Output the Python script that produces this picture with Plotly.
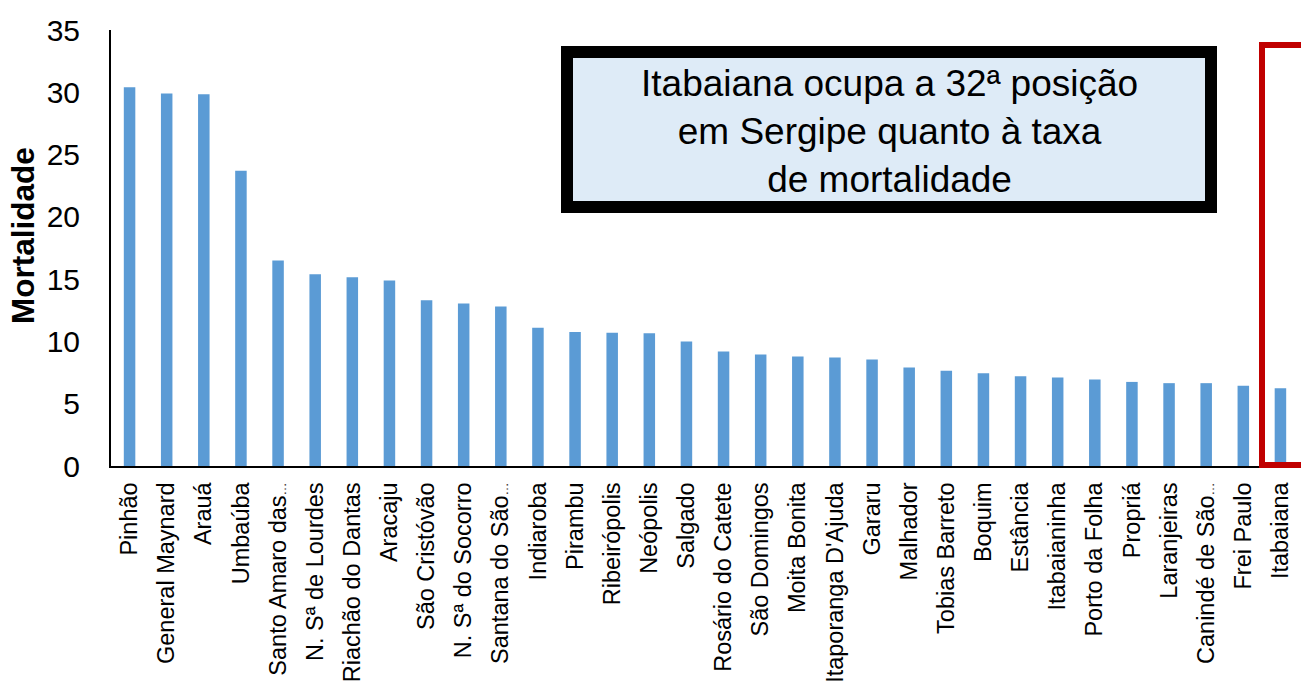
import plotly.graph_objects as go

# municipios de Sergipe, ordenados pela taxa de mortalidade
municipios = [
    "Pinhão", "General Maynard", "Arauá", "Umbaúba", "Santo Amaro das…",
    "N. Sª de Lourdes", "Riachão do Dantas", "Aracaju", "São Cristóvão",
    "N. Sª do Socorro", "Santana do São…", "Indiaroba", "Pirambu",
    "Ribeirópolis", "Neópolis", "Salgado", "Rosário do Catete",
    "São Domingos", "Moita Bonita", "Itaporanga D'Ajuda", "Gararu",
    "Malhador", "Tobias Barreto", "Boquim", "Estância", "Itabaianinha",
    "Porto da Folha", "Propriá", "Laranjeiras", "Canindé de São…",
    "Frei Paulo", "Itabaiana",
]
mortalidade = [
    30.4, 29.9, 29.85, 23.7, 16.5,
    15.4, 15.15, 14.9, 13.3,
    13.05, 12.8, 11.1, 10.75,
    10.7, 10.65, 10.0, 9.2,
    8.95, 8.8, 8.7, 8.55,
    7.9, 7.65, 7.45, 7.2, 7.1,
    6.95, 6.75, 6.65, 6.65,
    6.45, 6.25,
]
y_ticks = [0, 5, 10, 15, 20, 25, 30, 35]

# rotulos cortados: reticencias menores, como no original
rotulos = [m.replace("…", "<span style='font-size:13px'>…</span>") for m in municipios]

W, H = 1301, 683
L, R, T, B = 111, 2, 30, 217
PW, PH = W - L - R, H - T - B


def px(x):
    return (x - L) / PW


def py(y):
    return (H - B - y) / PH


FONT = "Liberation Sans, Arial, sans-serif"

fig = go.Figure(go.Bar(
    x=municipios,
    y=mortalidade,
    width=0.31,
    marker={"color": "#5B9BD5", "line": {"width": 0}},
))

fig.update_layout(
    width=W,
    height=H,
    margin={"l": L, "r": R, "t": T, "b": B, "autoexpand": False},
    paper_bgcolor="white",
    plot_bgcolor="white",
    font={"family": FONT, "color": "black"},
    showlegend=False,
    xaxis={
        "range": [-0.5, len(municipios) - 0.5],
        "tickmode": "array",
        "tickvals": municipios,
        "ticktext": rotulos,
        "showline": True,
        "linecolor": "black",
        "linewidth": 2,
        "showgrid": False,
        "ticks": "",
        "tickangle": -90,
        "tickfont": {"size": 23.5, "color": "black"},
        "ticklabelstandoff": 5,
        "automargin": False,
    },
    yaxis={
        "range": [0, 35],
        "tickvals": y_ticks,
        "showline": True,
        "linecolor": "black",
        "linewidth": 2,
        "showgrid": False,
        "zeroline": False,
        "ticks": "",
        "tickfont": {"size": 30, "color": "black"},
        "ticklabelstandoff": 23,
        "automargin": False,
    },
    shapes=[
        # caixa de destaque
        {
            "type": "rect", "xref": "paper", "yref": "paper",
            "x0": px(567), "x1": px(1211), "y0": py(207), "y1": py(52),
            "line": {"color": "black", "width": 12},
            "fillcolor": "#DEEBF7",
            "layer": "above",
        },
        # moldura vermelha em Itabaiana
        {
            "type": "rect", "xref": "paper", "yref": "paper",
            "x0": px(1262), "x1": px(1330), "y0": py(465), "y1": py(45),
            "line": {"color": "#C00000", "width": 6},
            "fillcolor": "rgba(0,0,0,0)",
            "layer": "above",
        },
    ],
    annotations=[
        {
            "text": "Itabaiana ocupa a 32ª posição<br>em Sergipe quanto à taxa<br>de mortalidade",
            "xref": "paper", "yref": "paper",
            "x": px(889), "y": py(131),
            "xanchor": "center", "yanchor": "middle",
            "showarrow": False,
            "font": {"size": 37, "color": "black", "family": FONT},
            "align": "center",
        },
        {
            "text": "<b>Mortalidade</b>",
            "xref": "paper", "yref": "paper",
            "x": px(23), "y": py(236),
            "xanchor": "center", "yanchor": "middle",
            "textangle": -90,
            "showarrow": False,
            "font": {"size": 31.5, "color": "black", "family": FONT},
        },
    ],
)

fig.write_html(
    "out.html",
    config={"displayModeBar": False},
    post_script="document.body.style.margin='0';document.body.style.overflow='hidden';",
)
